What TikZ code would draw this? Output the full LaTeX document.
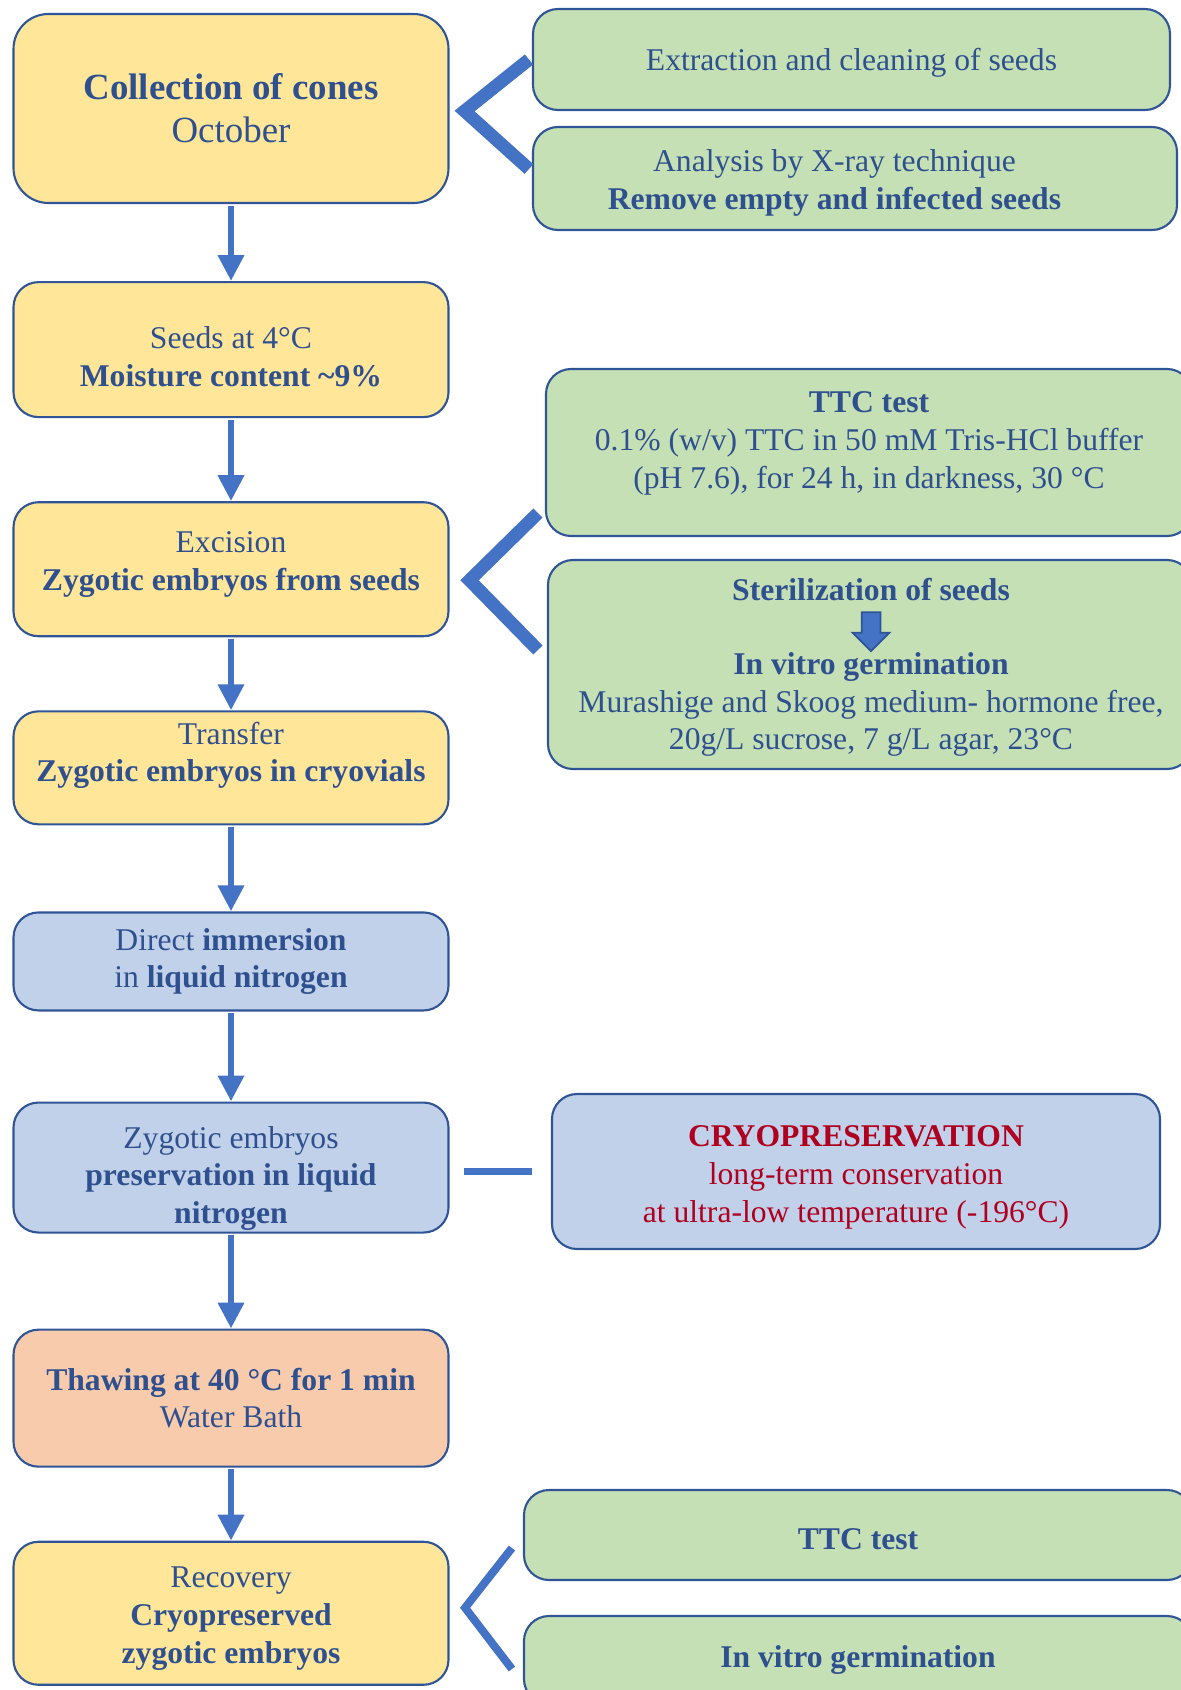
\documentclass[tikz,border=0pt]{standalone}
\usepackage{fontspec}
\setmainfont{Liberation Serif}
\usepackage{tikz}
\usetikzlibrary{shapes.geometric, shapes.arrows, arrows.meta, positioning, calc}
\definecolor{txtblue}{RGB}{47,80,143}
\definecolor{edgeblue}{RGB}{47,85,151}
\definecolor{arrowblue}{RGB}{68,114,196}
\definecolor{cone}{RGB}{255,230,153}
\definecolor{leaf}{RGB}{197,224,180}
\definecolor{frost}{RGB}{193,209,234}
\definecolor{thawor}{RGB}{248,203,173}
\definecolor{cryored}{RGB}{176,0,32}
\newcommand{\bodyfont}{\fontsize{18}{21.5}\selectfont}
% invisible struts to move a box text down (padtop) or up (padbot)
\newcommand{\padtop}[1]{\rule{0pt}{#1}}
\newcommand{\padbot}[1]{\rule[-#1]{0pt}{0pt}}
\tikzstyle{stage} = [rectangle, rounded corners=0.5cm, minimum width=8.7cm, inner ysep=0pt, text centered, align=center, draw=edgeblue, line width=1.2pt, fill=cone, text=txtblue, font=\bodyfont]
\tikzstyle{frozen} = [stage, fill=frost]
\tikzstyle{warm} = [stage, fill=thawor]
\tikzstyle{side} = [stage, fill=leaf]
\tikzstyle{cryobox} = [stage, fill=frost, text=cryored]
\tikzstyle{boxtext} = [inner sep=0pt, align=center, text=txtblue, font=\bodyfont]
\tikzstyle{arrow} = [line width=0.13cm, draw=arrowblue, -{Triangle[width=0.5cm,length=0.52cm]}, shorten <=1pt]
\tikzstyle{bracket} = [line width=0.26cm, draw=arrowblue, line join=miter]
\tikzstyle{link} = [line width=0.13cm, draw=arrowblue]

\begin{document}
\begin{tikzpicture}
	\useasboundingbox (0,0) rectangle (23.62,-33.8);

	% main column
	\node (collect) [stage, rounded corners=0.7cm, minimum height=3.78cm, font=\fontsize{21}{24.5}\selectfont] at (4.62,-2.17) {\textbf{Collection of cones}\\October};
	\node (seeds) [stage, below=1.54cm of collect, minimum height=2.7cm] {\padtop{0.73cm}Seeds at 4°C\\\textbf{Moisture content \textasciitilde9\%}};
	\node (excision) [stage, below=1.66cm of seeds, minimum height=2.68cm] {Excision\\\textbf{Zygotic embryos from seeds}\padbot{0.32cm}};
	\node (transfer) [stage, below=1.46cm of excision, minimum height=2.26cm] {Transfer\\\textbf{Zygotic embryos in cryovials}\padbot{0.64cm}};
	\node (immersion) [frozen, below=1.72cm of transfer, minimum height=1.96cm] {Direct \textbf{immersion}\\in \textbf{liquid nitrogen}};
	\node (preserv) [frozen, below=1.8cm of immersion, minimum height=2.6cm] {\padtop{0.87cm}Zygotic embryos\\\textbf{preservation in liquid}\\\textbf{nitrogen}};
	\node (thaw) [warm, below=1.9cm of preserv, minimum height=2.74cm] {\textbf{Thawing at 40 °C for 1 min}\\Water Bath};
	\node (recovery) [stage, below=1.46cm of thaw, minimum height=2.86cm] {\padtop{0.63cm}Recovery\\\textbf{Cryopreserved}\\\textbf{zygotic embryos}};

	% side boxes
	\node (extract) [side, minimum width=12.74cm, minimum height=2.02cm] at (17.03,-1.19) {\padtop{0.57cm}Extraction and cleaning of seeds};
	\node (xray) [side, minimum width=12.88cm, minimum height=2.06cm] at (17.10,-3.57) {\padtop{0.63cm}\hspace*{-0.82cm}Analysis by X-ray technique\\\hspace*{-0.82cm}\textbf{Remove empty and infected seeds}};
	\node (ttc) [side, minimum width=12.92cm, minimum height=3.34cm] at (17.38,-9.05) {\textbf{TTC test}\\0.1\% (w/v) TTC in 50 mM Tris-HCl buffer\\(pH 7.6), for 24 h, in darkness, 30 °C\padbot{0.51cm}};
	\node (sterilbox) [side, minimum width=12.88cm, minimum height=4.18cm] at (17.40,-13.29) {};
	\node (steril) [boxtext, font=\bodyfont\bfseries] at ($(sterilbox.north)+(0.02,-0.62)$) {Sterilization of seeds};
	\node (minarrow) [single arrow, shape border rotate=270, draw=edgeblue, line width=1pt, fill=arrowblue, inner sep=0.17cm, minimum width=0.7cm, minimum height=0.78cm, single arrow head extend=0.18cm] at ($(sterilbox.north)+(0.02,-1.36)$) {};
	\node (vitro) [boxtext] at ($(sterilbox.north)+(0.02,-2.91)$) {\textbf{In vitro germination}\\Murashige and Skoog medium- hormone free,\\20g/L sucrose, 7 g/L agar, 23°C};
	\node (cryo) [cryobox, minimum width=12.16cm, minimum height=3.1cm] at (17.12,-23.43) {\padtop{0.66cm}\textbf{CRYOPRESERVATION}\\long-term conservation\\at ultra-low temperature (-196°C)};
	\node (ttcB) [side, minimum width=13.36cm, minimum height=1.8cm] at (17.16,-30.7) {\padtop{0.59cm}\textbf{TTC test}};
	\node (germB) [side, minimum width=13.36cm, minimum height=1.76cm] at (17.16,-33.2) {\textbf{In vitro germination}};

	\draw [arrow] (collect) -- (seeds);
	\draw [arrow] (seeds) -- (excision);
	\draw [arrow] (excision) -- (transfer);
	\draw [arrow] (transfer) -- (immersion);
	\draw [arrow] (immersion) -- (preserv);
	\draw [arrow] (preserv) -- (thaw);
	\draw [arrow] (thaw) -- (recovery);

	\draw [bracket] ($(extract.west)+(-0.06,0)$) -- ($(collect.east)+(0.3,-0.05)$) -- ($(xray.west)+(-0.06,0.19)$);
	\draw [bracket] ($(ttc.south west)+(-0.14,0.48)$) -- ($(excision.east)+(0.4,-0.22)$) -- ($(sterilbox.west)+(-0.18,0.29)$);
	\draw [link] ($(preserv.east |- cryo.west)+(0.28,0)$) -- ($(cryo.west)+(-0.38,0)$);
	\draw [bracket, line width=0.16cm] ($(ttcB.west)+(-0.22,-0.26)$) -- ($(recovery.east)+(0.31,0.11)$) -- ($(germB.west)+(-0.22,-0.18)$);
\end{tikzpicture}
\end{document}
